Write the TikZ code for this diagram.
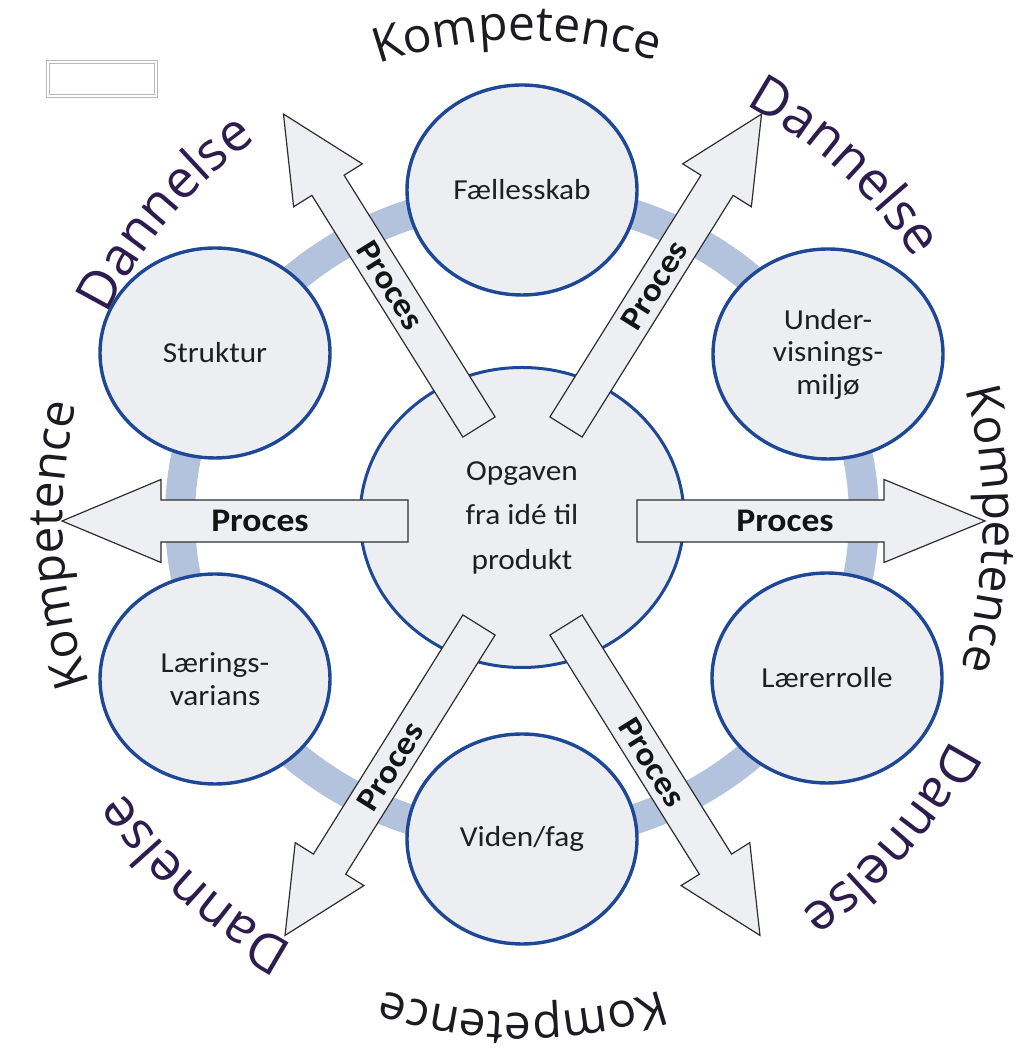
\documentclass[tikz,border=0pt]{standalone}
\usepackage{fontspec}
\usetikzlibrary{decorations.text,calc,shapes.geometric}
\newfontfamily\calib[FakeStretch=1.08]{Carlito}
\newfontfamily\osans{Open Sans}
\definecolor{ringblue}{HTML}{B3C3DD}
\definecolor{circfill}{HTML}{EDEEF2}
\definecolor{circline}{HTML}{1E4896}
\definecolor{arrfill}{HTML}{EEEFF3}
\definecolor{arrline}{HTML}{2E2E2E}
\definecolor{dancol}{HTML}{2D1D4F}
\definecolor{kompcol}{HTML}{1B1B22}
\newcommand\kompstyle{\osans\fontsize{48}{56}\selectfont\color{kompcol}}
\newcommand\danstyle{\osans\fontsize{53}{60}\selectfont\color{dancol}}
% #1 tail coordinate, #2 angle, #3 length, #4 head length, #5 shaft half width, #6 head half width
\newcommand\blockarr[6]{%
  \draw[arrowbody, shift={(#1)}, rotate=#2]
    (0,-#5) -- ({#3-#4},-#5) -- ({#3-#4},-#6) -- (#3,0) -- ({#3-#4},#6) -- ({#3-#4},#5) -- (0,#5) -- cycle;}
\begin{document}
\begin{tikzpicture}[x=1pt,y=1pt,
  topic/.style={ellipse, draw=circline, line width=3.4, fill=circfill,
    minimum width=230, minimum height=210, inner sep=0, align=center,
    text=black!88, font=\calib\fontsize{29}{32.5}\selectfont},
  arrowbody/.style={draw=arrline, fill=arrfill, line width=1.2, line join=miter},
  proc/.style={font=\calib\bfseries\fontsize{33}{36}\selectfont, text=black!92, inner sep=0},
  kompdeco/.style={decorate, decoration={text along path, text align=center, text={|\kompstyle|#1}}},
  dandeco/.style={decorate, decoration={text along path, text align=center, text={|\danstyle|#1}}}]
\useasboundingbox (0,0) rectangle (1031,1051);
\fill[white] (0,0) rectangle (1031,1051);

% small empty box
\draw[draw=gray!55, line width=1, double=white, double distance=2] (48,989) rectangle (156,955);

% ring
\draw[ringblue, line width=30] (522,534) ellipse [x radius=342, y radius=320];

% outer topics
\node[topic] (faell) at (522,861) {Fællesskab};
\node[topic] (underv) at (828,697) {Under-\\visnings-\\miljø};
\node[topic] (laerer) at (827,373) {Lærerrolle};
\node[topic] (viden) at (522,212) {Viden/fag};
\node[topic] (laering) at (215,372) {Lærings-\\varians};
\node[topic] (strukt) at (215,698) {Struktur};

% centre
\node[topic, line width=3, minimum width=324, minimum height=300,
  font=\calib\fontsize{29}{44.5}\selectfont] (centre) at (522,533.5) {Opgaven\\fra idé til\\produkt};

% arrow tails
\coordinate (tUL) at (479,624);
\coordinate (tUR) at (566,624);
\coordinate (tLL) at (479,426);
\coordinate (tLR) at (566,426);
\coordinate (tL) at (408,530);
\coordinate (tR) at (637,530);

\blockarr{tUL}{122}{369}{84}{19}{40.5}
\blockarr{tUR}{58}{369}{84}{19}{40.5}
\blockarr{tLL}{238}{366}{84}{19}{40.5}
\blockarr{tLR}{-58}{366}{84}{19}{40.5}
\blockarr{tL}{180}{346}{99}{21}{41.5}
\blockarr{tR}{0}{348}{101}{21}{41.5}

% Proces labels
\node[proc] (pL) at (260,530) {Proces};
\node[proc] (pR) at (785,530) {Proces};
\node[proc, rotate=-58] (pUL) at ($(tUL)+(122:167)$) {Proces};
\node[proc, rotate=58] (pUR) at ($(tUR)+(58:167)$) {Proces};
\node[proc, rotate=58] (pLL) at ($(tLL)+(238:167)$) {Proces};
\node[proc, rotate=-58] (pLR) at ($(tLR)+(-58:162)$) {Proces};

% Kompetence labels (clockwise arcs, text outward)
\path[kompdeco=Kompetence] ($(523,530)+(135.7:460 and 481)$) arc[start angle=135.7, end angle=45.7, x radius=460, y radius=481];
\path[kompdeco=Kompetence] ($(523,530)+(44:460 and 481)$) arc[start angle=44, end angle=-46, x radius=460, y radius=481];
\path[kompdeco=Kompetence] ($(523,530)+(315:460 and 492)$) arc[start angle=315, end angle=225, x radius=460, y radius=492];
\path[kompdeco=Kompetence] ($(523,530)+(227.9:460 and 481)$) arc[start angle=227.9, end angle=137.9, x radius=460, y radius=481];

% Dannelse labels
\path[dandeco=Dannelse] ($(522,533)+(184.5:462)$) arc[start angle=184.5, end angle=94.5, radius=462];
\path[dandeco=Dannelse] ($(522,533)+(92.5:470)$) arc[start angle=92.5, end angle=2.5, radius=470];
\path[dandeco=Dannelse] ($(522,533)+(4.0:483)$) arc[start angle=4.0, end angle=-86.0, radius=483];
\path[dandeco=Dannelse] ($(522,533)+(273.2:484)$) arc[start angle=273.2, end angle=183.2, radius=484];
\end{tikzpicture}
\end{document}
